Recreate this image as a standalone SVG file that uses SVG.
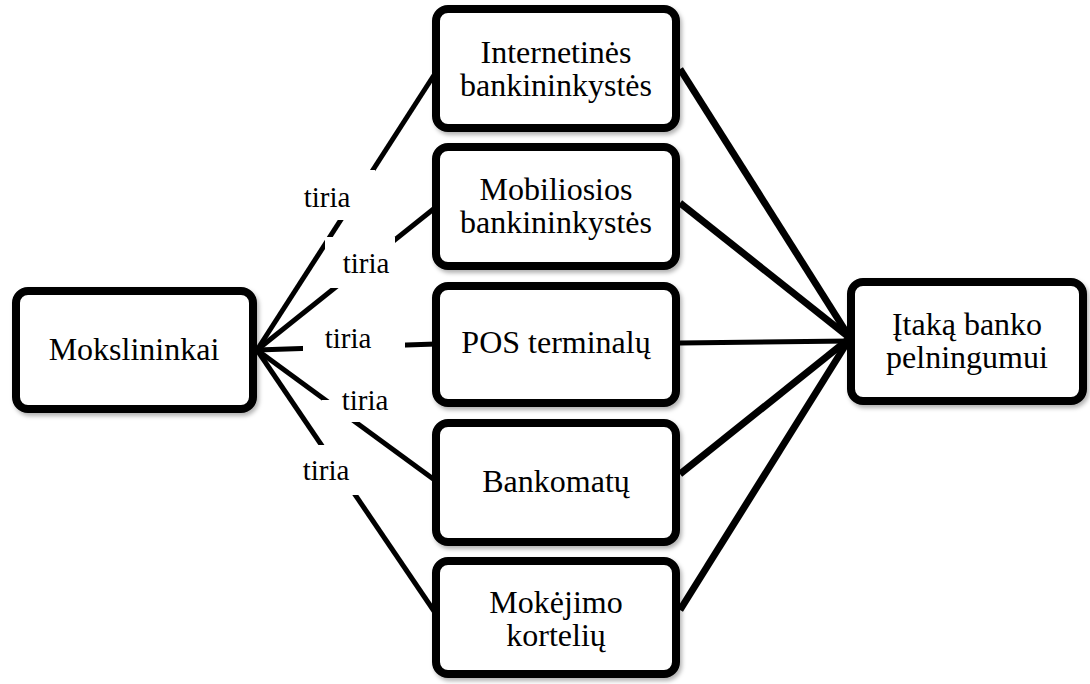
<svg xmlns="http://www.w3.org/2000/svg" width="1090" height="684" viewBox="0 0 1090 684">
<style>
.box{fill:#fff;stroke:#000;stroke-width:8}
.t{font-family:'Times New Roman',Times,'Liberation Serif','Nimbus Roman','Nimbus Roman No9 L',Tinos,'Noto Serif','DejaVu Serif',FreeSerif,serif;font-size:32px;fill:#000;text-anchor:middle}
.lb{font-family:'Times New Roman',Times,'Liberation Serif','Nimbus Roman','Nimbus Roman No9 L',Tinos,'Noto Serif','DejaVu Serif',FreeSerif,serif;font-size:29px;fill:#000;text-anchor:middle}
.l{stroke:#000;stroke-width:5;fill:none}
.r{stroke:#000;stroke-width:7;fill:none}
.bg{fill:#fff}
</style>
<defs>
<filter id="sh" x="-10%" y="-10%" width="125%" height="130%">
<feDropShadow dx="2" dy="3" stdDeviation="2" flood-color="#000" flood-opacity="0.3"/>
</filter>
</defs>
<rect width="1090" height="684" fill="#fff"/>
<g id="connectors">
<line class="l" x1="257" y1="350" x2="436" y2="72"/>
<line class="l" x1="257" y1="350" x2="436" y2="207"/>
<line class="l" x1="257" y1="350" x2="436" y2="344"/>
<line class="l" x1="257" y1="350" x2="436" y2="481"/>
<line class="l" x1="257" y1="350" x2="436" y2="614"/>
<line class="r" x1="680" y1="69" x2="850" y2="338"/>
<line class="r" x1="680" y1="203" x2="850" y2="338"/>
<line class="l" x1="680" y1="343" x2="850" y2="341"/>
<line class="r" x1="680" y1="474" x2="850" y2="338"/>
<line class="r" x1="680" y1="610" x2="850" y2="338"/>
<rect class="bg" x="298" y="170" width="77" height="50"/>
<rect class="bg" x="325" y="237" width="70" height="51"/>
<rect class="bg" x="303" y="325" width="102" height="38"/>
<rect class="bg" x="322" y="400" width="72" height="22"/>
<rect class="bg" x="298" y="445" width="62" height="50"/>
<text class="lb" x="327" y="207">tiria</text>
<text class="lb" x="366" y="273">tiria</text>
<text class="lb" x="348" y="348">tiria</text>
<text class="lb" x="365" y="410">tiria</text>
<text class="lb" x="326" y="480">tiria</text>
</g>
<g id="n-mokslininkai">
<rect class="box" filter="url(#sh)" x="16" y="291" width="237" height="118" rx="12"/>
<text class="t" x="134" y="360">Mokslininkai</text>
</g>
<g id="n-internetines">
<rect class="box" filter="url(#sh)" x="436" y="9" width="240" height="119" rx="12"/>
<text class="t" x="556" y="63">Internetinės</text>
<text class="t" x="556" y="96">bankininkystės</text>
</g>
<g id="n-mobiliosios">
<rect class="box" filter="url(#sh)" x="436" y="147" width="240" height="119" rx="12"/>
<text class="t" x="556" y="200">Mobiliosios</text>
<text class="t" x="556" y="233">bankininkystės</text>
</g>
<g id="n-pos">
<rect class="box" filter="url(#sh)" x="436" y="286" width="240" height="117" rx="12"/>
<text class="t" x="556" y="353">POS terminalų</text>
</g>
<g id="n-bankomatu">
<rect class="box" filter="url(#sh)" x="436" y="423" width="240" height="119" rx="12"/>
<text class="t" x="556" y="492">Bankomatų</text>
</g>
<g id="n-mokejimo">
<rect class="box" filter="url(#sh)" x="436" y="561" width="240" height="113" rx="12"/>
<text class="t" x="556" y="613">Mokėjimo</text>
<text class="t" x="556" y="646">kortelių</text>
</g>
<g id="n-itaka">
<rect class="box" filter="url(#sh)" x="851" y="282" width="232" height="119" rx="12"/>
<text class="t" x="967" y="335">Įtaką banko</text>
<text class="t" x="967" y="368">pelningumui</text>
</g>
</svg>
